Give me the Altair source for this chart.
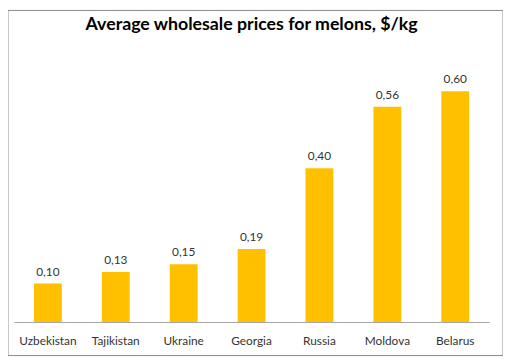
import altair as alt
import pandas as pd

countries = ["Uzbekistan", "Tajikistan", "Ukraine", "Georgia", "Russia", "Moldova", "Belarus"]
prices = [0.10, 0.13, 0.15, 0.19, 0.40, 0.56, 0.60]

df = pd.DataFrame({"country": countries, "price": prices})

FONT = "Lato"

base = alt.Chart(df).encode(
    x=alt.X("country:N", sort=countries,
            scale=alt.Scale(paddingInner=0.59, paddingOuter=0.295),
            axis=alt.Axis(title=None, labelAngle=0, ticks=False, domainColor="#A6A6A6",
                          labelFont=FONT, labelFontSize=12, labelColor="#333333",
                          labelPadding=14, labelBaseline="top")),
    y=alt.Y("price:Q", scale=alt.Scale(domain=[0, 0.7], nice=False), axis=None),
)

bars = base.mark_bar(color="#FFC000")
labels = base.transform_calculate(
    lbl="replace(format(datum.price, '.2f'), '.', ',')"
).mark_text(baseline="alphabetic", dy=-8, font=FONT, fontSize=12, color="#333333").encode(
    text="lbl:N"
)

frame = alt.Chart(alt.Data(values=[{"a": 1}])).mark_rect(
    fill=None, stroke="#888888", strokeWidth=1
).encode(x=alt.value(-6), x2=alt.value(496), y=alt.value(-43), y2=alt.value(307))

chart = alt.layer(frame, bars, labels).properties(
    width=482, height=273,
    autosize=alt.AutoSizeParams(type="none"),
    padding={"left": 6, "top": 43, "right": 14, "bottom": 34},
    title=alt.TitleParams("Average wholesale prices for melons, $/kg", font=FONT,
                          fontSize=18, fontWeight="bold", color="#000000",
                          anchor="middle", frame="group", baseline="alphabetic",
                          offset=0, dy=38),
).configure_view(stroke=None)

chart.save("out.html", embed_options={"renderer": "svg", "actions": False})
